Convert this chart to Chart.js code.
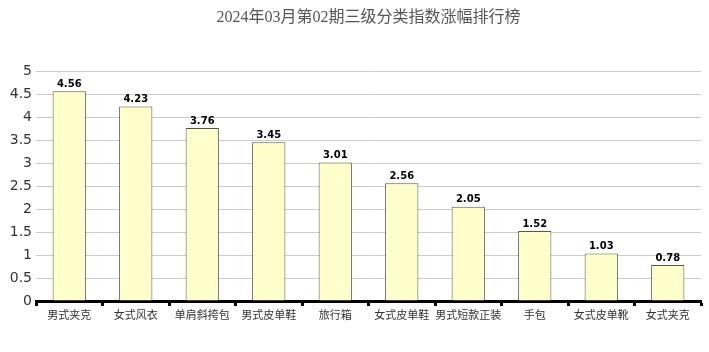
<!DOCTYPE html>
<html>
<head>
<meta charset="utf-8">
<script src="https://cdn.jsdelivr.net/npm/chart.js@4"></script>
<style>
  html, body { margin: 0; padding: 0; background: #fff; }
  #wrap { width: 709px; height: 352px; }
</style>
</head>
<body>
<div id="wrap"><canvas id="chart" width="709" height="352"></canvas></div>
<script>
const chartTitle = '2024年03月第02期三级分类指数涨幅排行榜'
const categories = ['男式夹克', '女式风衣', '单肩斜挎包', '男式皮单鞋', '旅行箱', '女式皮单鞋', '男式短款正装', '手包', '女式皮单靴', '女式夹克']
const values = [4.56, 4.23, 3.76, 3.45, 3.01, 2.56, 2.05, 1.52, 1.03, 0.78]
const yTicks = [0, 0.5, 1, 1.5, 2, 2.5, 3, 3.5, 4, 4.5, 5]

// title centred over the plot area
const titlePlugin = {
    id: 'plotTitle',
    afterDraw(chart) {
        const ctx = chart.ctx
        const area = chart.chartArea
        ctx.save()
        ctx.font = '16px "Liberation Serif", "Noto Sans CJK SC", serif'
        ctx.fillStyle = '#555'
        ctx.textAlign = 'center'
        ctx.textBaseline = 'middle'
        ctx.fillText(chartTitle, (area.left + area.right) / 2, 18)
        ctx.restore()
    }
}

// value labels over each bar
const valueLabels = {
    id: 'valueLabels',
    afterDatasetsDraw(chart) {
        const ctx = chart.ctx
        const meta = chart.getDatasetMeta(0)
        ctx.save()
        ctx.font = 'bold 10px "DejaVu Sans", Verdana, sans-serif'
        ctx.fillStyle = '#000'
        ctx.textAlign = 'center'
        ctx.textBaseline = 'bottom'
        meta.data.forEach((bar, i) => {
            ctx.fillText(values[i].toFixed(2), bar.x, bar.y - 2)
        })
        ctx.restore()
    }
}

const chart = new Chart(document.getElementById('chart'), {
    type: 'bar',
    data: {
        labels: categories,
        datasets: [{
            data: values,
            backgroundColor: '#FFFFCC',
            borderColor: '#555',
            borderWidth: 1,
            barPercentage: 0.5,
            categoryPercentage: 1
        }]
    },
    options: {
        responsive: false,
        animation: false,
        events: [],
        layout: { padding: { top: 71, right: 8, left: 0, bottom: 0 } },
        plugins: {
            legend: { display: false },
            title: { display: false },
            tooltip: { enabled: false }
        },
        scales: {
            x: {
                offset: true,
                grid: {
                    offset: true,
                    drawOnChartArea: false,
                    drawTicks: true,
                    tickLength: 5,
                    tickWidth: 3,
                    tickColor: '#000'
                },
                border: { display: true, color: '#000', width: 3 },
                ticks: {
                    color: '#333',
                    padding: 2,
                    maxRotation: 0,
                    autoSkip: false,
                    font: { size: 11, family: '"Noto Sans CJK SC", sans-serif' }
                },
                afterFit: (s) => { s.height = 51 }
            },
            y: {
                min: 0,
                max: 5,
                afterBuildTicks: (s) => { s.ticks = yTicks.map(v => ({ value: v })) },
                grid: { color: '#ccc', drawTicks: false },
                border: { display: false },
                ticks: {
                    color: '#333',
                    padding: 4,
                    font: { size: 14, family: '"DejaVu Sans", Verdana, sans-serif' },
                    callback: (v) => String(v)
                },
                afterFit: (s) => { s.width = 36 }
            }
        }
    },
    plugins: [titlePlugin, valueLabels]
})
</script>
</body>
</html>
